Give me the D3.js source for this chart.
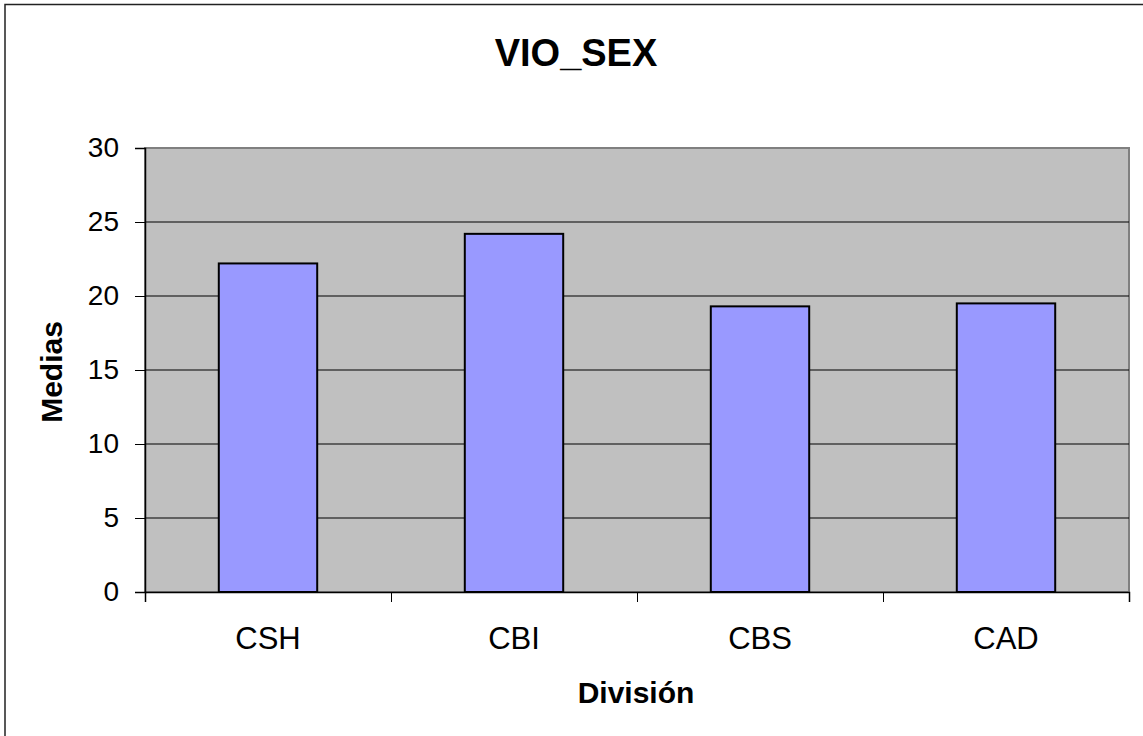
<!DOCTYPE html>
<html>
<head>
<meta charset="utf-8">
<script src="https://cdn.jsdelivr.net/npm/d3@7"></script>
<style>
  body { margin: 0; background: #fff; overflow: hidden; }
  svg text { font-family: "Liberation Sans", Arial, sans-serif; }
</style>
</head>
<body>
<div id="chart"></div>
<script>
// data
var categories = ["CSH", "CBI", "CBS", "CAD"];
var medias = [22.2, 24.2, 19.3, 19.5];
var yTicks = [0, 5, 10, 15, 20, 25, 30];

document.addEventListener('DOMContentLoaded', function() {
  drawChart();
});

function drawChart(){
    var W = 1143, H = 736;
    var margin = {top: 148, right: 14, bottom: 144, left: 145},
    width = W - margin.left - margin.right,
    height = H - margin.top - margin.bottom;

    var svg = d3.select("#chart")
        .append("svg")
        .attr("width", W)
        .attr("height", H)
        .style("display", "block");

    // outer frame (only top and left edges are inside the picture)
    svg.append("rect")
      .attr("x", 5).attr("y", 4.5)
      .attr("width", W + 20).attr("height", H + 20)
      .attr("fill", "#fff")
      .attr("stroke", "#222")
      .attr("stroke-width", 1.5);

    var g = svg.append("g")
        .attr("transform", "translate(" + margin.left + "," + margin.top + ")");

    var x = d3.scaleBand().domain(categories).range([0, width])
              .paddingInner(0.6).paddingOuter(0.3);
    var xEdges = d3.scaleLinear().domain([0, categories.length]).range([0, width]);
    var y = d3.scaleLinear().domain([0, 30]).range([height, 0]);

    // plot area
    g.append("rect")
      .attr("width", width).attr("height", height)
      .attr("fill", "#c0c0c0")
      .attr("stroke", "#808080")
      .attr("stroke-width", 2);

    // gridlines
    g.selectAll(".grid")
      .data(yTicks.filter(function(d) { return d > 0 && d < 30; }))
      .enter().append("line")
      .attr("x1", 0).attr("x2", width)
      .attr("y1", function(d) { return y(d); })
      .attr("y2", function(d) { return y(d); })
      .attr("stroke", "#000")
      .attr("stroke-width", 1);

    // bars
    g.selectAll(".bar")
      .data(medias)
      .enter().append("rect")
      .attr("x", function(d, i) { return x(categories[i]); })
      .attr("y", function(d) { return y(d); })
      .attr("width", x.bandwidth())
      .attr("height", function(d) { return height - y(d); })
      .attr("fill", "#9999ff")
      .attr("stroke", "#000")
      .attr("stroke-width", 2);

    // Y axis
    var yAxis = g.append("g")
      .call(d3.axisLeft(y).tickValues(yTicks).tickSize(10).tickPadding(16));
    yAxis.select(".domain").attr("stroke", "#000").attr("stroke-width", 1.5);
    yAxis.selectAll("text").style("font-size", "28px").attr("fill", "#000");

    // X axis: boundary ticks
    var xTicks = g.append("g")
      .attr("transform", "translate(0," + height + ")")
      .call(d3.axisBottom(xEdges).tickValues(d3.range(categories.length + 1))
        .tickFormat("").tickSize(10));
    xTicks.select(".domain").attr("stroke", "#000").attr("stroke-width", 1.5);

    // X axis: labels
    var xAxis = g.append("g")
      .attr("transform", "translate(0," + height + ")")
      .call(d3.axisBottom(x).tickSize(0).tickPadding(35));
    xAxis.select(".domain").remove();
    xAxis.selectAll("text").style("font-size", "31px").attr("fill", "#000");

    svg.append("text")      // chart title
      .attr("x", 576)
      .attr("y", 66)
      .style("text-anchor", "middle")
      .style("font-size", "38px")
      .style("font-weight", "bold")
      .text("VIO_SEX");

    svg.append("text")      // x-axis title
      .attr("x", 636)
      .attr("y", 703)
      .style("text-anchor", "middle")
      .style("font-size", "30px")
      .style("font-weight", "bold")
      .text("División");

    svg.append("text")      // y-axis title
      .attr("transform", "translate(62,372) rotate(-90)")
      .style("text-anchor", "middle")
      .style("font-size", "30px")
      .style("font-weight", "bold")
      .text("Medias");
}
</script>
</body>
</html>
